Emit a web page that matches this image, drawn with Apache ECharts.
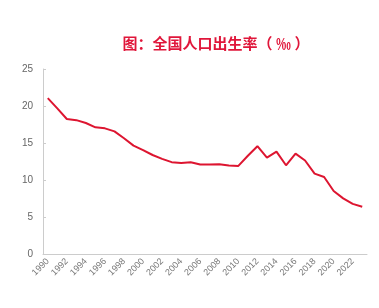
<!DOCTYPE html>
<html>
<head>
<meta charset="utf-8">
<script src="https://cdn.jsdelivr.net/npm/echarts@6/dist/echarts.min.js"></script>
<style>html,body{margin:0;padding:0;background:#fff;}#c{width:379px;height:308px;}</style>
</head>
<body>
<div id="c"></div>
<script>
var years = ['1990','1991','1992','1993','1994','1995','1996','1997','1998','1999','2000','2001','2002','2003','2004','2005','2006','2007','2008','2009','2010','2011','2012','2013','2014','2015','2016','2017','2018','2019','2020','2021','2022','2023'];
var birthRate = [21.06,19.68,18.24,18.09,17.70,17.12,16.98,16.57,15.64,14.64,14.03,13.38,12.86,12.41,12.29,12.40,12.09,12.10,12.14,11.95,11.90,13.27,14.57,13.03,13.83,11.99,13.57,12.64,10.86,10.41,8.52,7.52,6.77,6.39];
var yTicks = [0,5,10,15,20,25];
var chart = echarts.init(document.getElementById('c'));
chart.setOption({
  animation: false,
  title: {
    text: '图：全国人口出生率（ ‰ ）',
    left: 211, top: 31, textAlign: 'center',
    textStyle: {color: '#e0163a', fontSize: 15, fontWeight: 'bold', fontFamily: 'Noto Sans CJK SC'}
  },
  grid: {left: 43, right: 12, top: 69, bottom: 54},
  xAxis: {
    type: 'category', data: years, boundaryGap: true,
    axisLine: {lineStyle: {color: '#cccccc'}},
    axisTick: {interval: 1, length: 3, lineStyle: {color: '#cccccc'}},
    axisLabel: {interval: 1, rotate: 45, fontSize: 9, color: '#777', margin: 6, fontFamily: 'Liberation Sans'}
  },
  yAxis: {
    type: 'value', min: yTicks[0], max: yTicks[yTicks.length-1], interval: 5,
    axisLine: {show: true, lineStyle: {color: '#cccccc'}},
    axisTick: {show: true, inside: true, length: 3, lineStyle: {color: '#cccccc'}},
    splitLine: {show: false},
    axisLabel: {fontSize: 10, color: '#666', margin: 10, fontFamily: 'Liberation Sans'}
  },
  series: [{
    type: 'line', data: birthRate, symbol: 'none',
    lineStyle: {color: '#dd1530', width: 2}
  }]
});
</script>
</body>
</html>
